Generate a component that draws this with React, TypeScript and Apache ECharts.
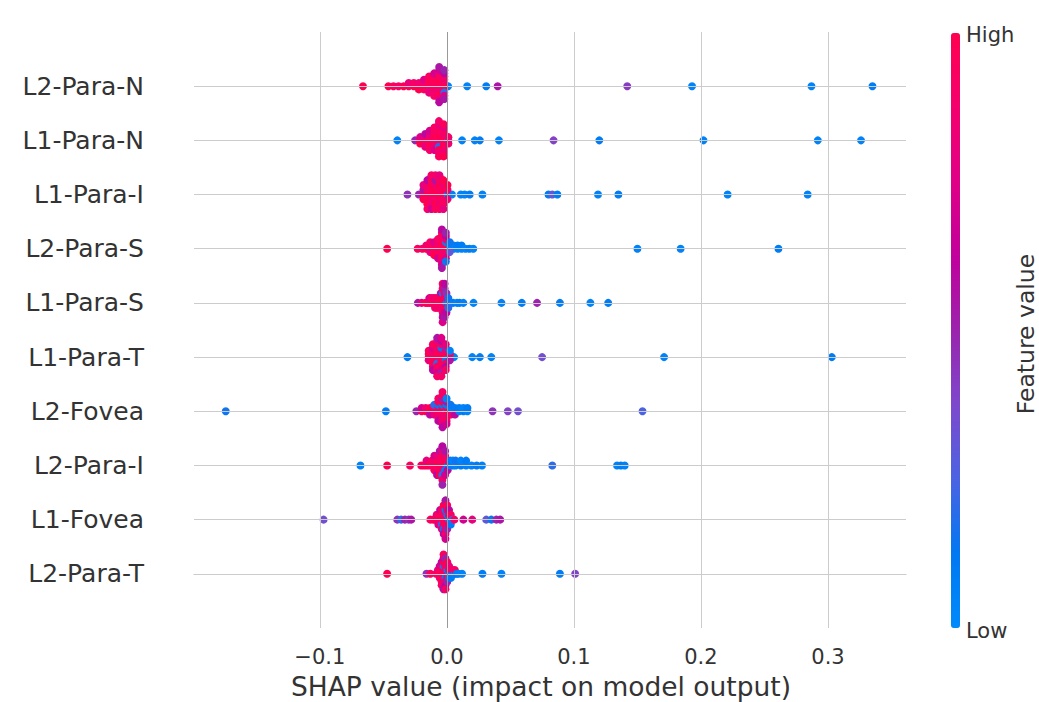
import { useEffect, useRef } from 'react';
import * as echarts from 'echarts';

const FEATURES = ['L2-Para-N', 'L1-Para-N', 'L1-Para-I', 'L2-Para-S', 'L1-Para-S', 'L1-Para-T', 'L2-Fovea', 'L2-Para-I', 'L1-Fovea', 'L2-Para-T'];
const X_TICKS = [-0.1, 0, 0.1, 0.2, 0.3];
const X_TITLE = 'SHAP value (impact on model output)';
const X_MIN = -0.199;
const X_MAX = 0.3614;
const COLOR_STOPS = ['#008bfb', '#0078f3', '#4b63e3', '#7d49cd', '#9b23ad', '#c2009c', '#e00087', '#f5006d', '#ff0051'];

// [SHAP value, normalised feature value (0 = low, 1 = high)]
const L2_PARA_N: number[][] = [
  [-0.066, 1], [-0.046, 1], [-0.042, .95], [0.001, .05], [0.016, .05], [0.031, .1], [0.040, .55], [0.142, .42], [0.193, .05], [0.287, .05], [0.335, .1],
  [-0.038, .9], [-0.034, 1], [-0.030, .95], [-0.030, .8], [-0.026, 1], [-0.026, .9],
  [-0.022, .95], [-0.022, .85], [-0.022, 1], [-0.018, 1], [-0.018, .9], [-0.018, .95], [-0.018, .75],
  [-0.014, 1], [-0.014, .95], [-0.014, .9], [-0.014, 1], [-0.014, .8], [-0.014, .95],
  [-0.010, 1], [-0.010, .9], [-0.010, .95], [-0.010, 1], [-0.010, .85], [-0.010, .95], [-0.010, .9], [-0.010, .7],
  [-0.006, 1], [-0.006, .95], [-0.006, .9], [-0.006, 1], [-0.006, .85], [-0.006, .95], [-0.006, 1], [-0.006, .9], [-0.006, .8], [-0.006, .7], [-0.006, .6], [-0.006, .55],
  [-0.002, .9], [-0.002, 1], [-0.002, .95], [-0.002, .85], [-0.002, .2], [-0.002, .9], [-0.002, .75], [-0.002, .6], [-0.002, .55], [-0.002, .5],
];
const L1_PARA_N: number[][] = [
  [-0.039, .05], [-0.025, .5], [0.012, .05], [0.022, .05], [0.026, .1], [0.041, .05], [0.084, .4], [0.120, .1], [0.202, .05], [0.292, .05], [0.326, .05],
  [-0.021, .9], [-0.021, .75], [-0.021, 1],
  [-0.017, 1], [-0.017, .85], [-0.017, .95], [-0.017, .6], [-0.017, .8],
  [-0.0135, 1], [-0.0135, .9], [-0.0135, .95], [-0.0135, .8], [-0.0135, 1], [-0.0135, .7], [-0.0135, .9],
  [-0.0098, 1], [-0.0098, .95], [-0.0098, .9], [-0.0098, 1], [-0.0098, .85], [-0.0098, .9], [-0.0098, .75], [-0.0098, .95],
  [-0.0062, 1], [-0.0062, .95], [-0.0062, .9], [-0.0062, 1], [-0.0062, .2], [-0.0062, .95], [-0.0062, 1], [-0.0062, .9], [-0.0062, .85], [-0.0062, .8], [-0.0062, .95], [-0.0062, .9],
  [-0.0025, .95], [-0.0025, 1], [-0.0025, .9], [-0.0025, .85], [-0.0025, 1], [-0.0025, .95], [-0.0025, .9], [-0.0025, .8], [-0.0025, .85], [-0.0025, .95], [-0.0025, 1],
  [0.0012, .1], [0.0012, .9], [0.0012, .85],
];
const L1_PARA_I: number[][] = [
  [-0.031, .45], [-0.022, .5], [0.004, .05], [0.011, .05], [0.014, .05], [0.018, .1], [0.028, .05], [0.080, .1], [0.083, .3], [0.087, .1], [0.119, .05], [0.135, .1], [0.221, .05], [0.284, .05],
  [-0.0184, .9], [-0.0184, .55], [-0.0184, 1], [-0.0184, .8],
  [-0.0153, 1], [-0.0153, .9], [-0.0153, .95], [-0.0153, .85], [-0.0153, 1], [-0.0153, .6], [-0.0153, .9],
  [-0.0121, 1], [-0.0121, .95], [-0.0121, .9], [-0.0121, 1], [-0.0121, .85], [-0.0121, .95], [-0.0121, .7], [-0.0121, .9],
  [-0.009, .95], [-0.009, 1], [-0.009, .9], [-0.009, .85], [-0.009, 1], [-0.009, .55], [-0.009, .95], [-0.009, .9],
  [-0.0058, 1], [-0.0058, .9], [-0.0058, .95], [-0.0058, 1], [-0.0058, .85], [-0.0058, .9], [-0.0058, .95], [-0.0058, .8],
  [-0.0027, .95], [-0.0027, 1], [-0.0027, .9], [-0.0027, .85], [-0.0027, .95], [-0.0027, 1], [-0.0027, .8],
  [0.0005, .1], [0.0005, .9], [0.0005, .85], [0.0005, 1],
];
const L2_PARA_S: number[][] = [
  [-0.047, 1], [-0.023, .95], [0.150, .05], [0.184, .05], [0.261, .1],
  [0.0054, .05], [0.0054, .1], [0.0085, .05], [0.0085, .1], [0.0116, .05], [0.0116, .1], [0.0147, .05], [0.0177, .1], [0.0208, .05],
  [-0.0193, .9], [-0.0162, 1], [-0.0162, .85],
  [-0.0131, .95], [-0.0131, 1], [-0.0131, .8], [-0.0131, .9],
  [-0.010, 1], [-0.010, .9], [-0.010, .95], [-0.010, .75], [-0.010, 1],
  [-0.007, 1], [-0.007, .95], [-0.007, .9], [-0.007, .85], [-0.007, 1], [-0.007, .9], [-0.007, .7],
  [-0.0039, 1], [-0.0039, .95], [-0.0039, .9], [-0.0039, 1], [-0.0039, .85], [-0.0039, .95], [-0.0039, 1], [-0.0039, .9], [-0.0039, .8], [-0.0039, .95], [-0.0039, .7], [-0.0039, .6], [-0.0039, .55],
  [-0.0008, .9], [-0.0008, 1], [-0.0008, .95], [-0.0008, .2], [-0.0008, .85], [-0.0008, .9], [-0.0008, .75], [-0.0008, .6], [-0.0008, .15], [-0.0008, .5],
  [0.0023, .1], [0.0023, .05], [0.0023, .3], [0.0023, .15],
];
const L1_PARA_S: number[][] = [
  [-0.0228, .55], [0.003, .05], [0.005, .1], [0.008, .05], [0.010, .1], [0.013, .05], [0.021, .05], [0.043, .05], [0.059, .1], [0.071, .5], [0.089, .1], [0.113, .05], [0.127, .1],
  [-0.0198, .8], [-0.0168, .95], [-0.0153, 1], [-0.0138, .9], [-0.0138, .7], [-0.0123, 1], [-0.0123, .85], [-0.0108, .95], [-0.0108, .9],
  [-0.0093, 1], [-0.0093, .8], [-0.0093, .9], [-0.0078, .95], [-0.0078, 1], [-0.0078, .85],
  [-0.0063, 1], [-0.0063, .9], [-0.0063, .95],
  [-0.0048, .9], [-0.0048, 1], [-0.0048, .85], [-0.0048, .55],
  [-0.0033, 1], [-0.0033, .95], [-0.0033, .9], [-0.0033, .2], [-0.0033, .85], [-0.0033, 1], [-0.0033, .6], [-0.0033, .95], [-0.0033, .75],
  [-0.0018, .95], [-0.0018, 1], [-0.0018, .9], [-0.0018, .85], [-0.0018, .7], [-0.0018, .5], [-0.0018, .55], [-0.0018, .6],
  [-0.0003, .1], [-0.0003, .9], [-0.0003, 1], [-0.0003, .45], [-0.0003, .6],
  [0.0012, .05], [0.0012, .15], [0.0012, .2],
];
const L1_PARA_T: number[][] = [
  [-0.031, .1], [0.0057, .05], [0.020, .05], [0.026, .1], [0.035, .05], [0.075, .35], [0.171, .05], [0.303, .1],
  [-0.0143, .9], [-0.0143, 1], [-0.0143, .8], [-0.0143, .95],
  [-0.011, 1], [-0.011, .9], [-0.011, .95], [-0.011, .85], [-0.011, 1], [-0.011, .7], [-0.011, .9], [-0.011, .95], [-0.011, .6],
  [-0.0076, 1], [-0.0076, .95], [-0.0076, .9], [-0.0076, 1], [-0.0076, .2], [-0.0076, .85], [-0.0076, .95], [-0.0076, 1], [-0.0076, .9], [-0.0076, .8], [-0.0076, .7], [-0.0076, .55], [-0.0076, .9],
  [-0.0043, .95], [-0.0043, 1], [-0.0043, .9], [-0.0043, .85], [-0.0043, 1], [-0.0043, .15], [-0.0043, .95], [-0.0043, .9], [-0.0043, .8], [-0.0043, .6], [-0.0043, .5], [-0.0043, .75], [-0.0043, .9],
  [-0.0009, .9], [-0.0009, 1], [-0.0009, .1], [-0.0009, .85], [-0.0009, .95], [-0.0009, .5], [-0.0009, .6], [-0.0009, .8], [-0.0009, .9],
  [0.0024, .1], [0.0024, .9], [0.0024, .55], [0.0024, .05],
];
const L2_FOVEA: number[][] = [
  [-0.174, .15], [-0.048, .1], [-0.024, .5], [0.036, .45], [0.048, .4], [0.056, .35], [0.154, .25],
  [-0.0198, .95], [-0.0198, .7], [-0.0166, 1], [-0.0166, .85], [-0.0133, .9], [-0.0133, 1], [-0.0133, .6],
  [-0.010, 1], [-0.010, .95], [-0.010, .8], [-0.010, .2],
  [-0.0067, 1], [-0.0067, .9], [-0.0067, .95], [-0.0067, .1], [-0.0067, .85], [-0.0067, 1], [-0.0067, .6], [-0.0067, .9],
  [-0.0034, .95], [-0.0034, 1], [-0.0034, .9], [-0.0034, .15], [-0.0034, .85], [-0.0034, 1], [-0.0034, .9], [-0.0034, .5], [-0.0034, .8], [-0.0034, .95], [-0.0034, .6], [-0.0034, .9],
  [-0.0002, .2], [-0.0002, .9], [-0.0002, 1], [-0.0002, .1], [-0.0002, .85], [-0.0002, .55], [-0.0002, .95], [-0.0002, .05], [-0.0002, .7],
  [0.0031, .1], [0.0031, .05], [0.0031, .9], [0.0031, .15],
  [0.0064, .05], [0.0064, .1], [0.0064, .6], [0.0097, .05], [0.0097, .1], [0.013, .1], [0.013, .05], [0.0162, .05], [0.0162, .1],
];
const L2_PARA_I: number[][] = [
  [-0.068, .05], [-0.047, 1], [-0.029, .95], [0.083, .2], [0.134, .05], [0.137, .1], [0.140, .05],
  [-0.0202, .9], [-0.0181, 1], [-0.016, .95], [-0.016, .8], [-0.0139, 1], [-0.0118, .9], [-0.0118, .95],
  [-0.0098, 1], [-0.0098, .85], [-0.0098, .9], [-0.0098, .7],
  [-0.0077, .95], [-0.0077, 1], [-0.0077, .9], [-0.0077, .8], [-0.0077, .6],
  [-0.0056, 1], [-0.0056, .9], [-0.0056, .95], [-0.0056, .85], [-0.0056, 1], [-0.0056, .55],
  [-0.0035, 1], [-0.0035, .95], [-0.0035, .9], [-0.0035, 1], [-0.0035, .2], [-0.0035, .85], [-0.0035, .9], [-0.0035, .6], [-0.0035, .5],
  [-0.0014, .9], [-0.0014, 1], [-0.0014, .15], [-0.0014, .85], [-0.0014, .7], [-0.0014, .55],
  [0.0006, .1], [0.0006, .9], [0.0006, .6], [0.0027, .05], [0.0027, .1], [0.0048, .1], [0.0048, .05], [0.0069, .05], [0.0069, .15],
  [0.011, .1], [0.011, .05], [0.0152, .05], [0.0152, .1], [0.0194, .05], [0.0235, .1], [0.0277, .05],
];
const L1_FOVEA: number[][] = [
  [-0.097, .35], [-0.039, .45], [-0.036, .2], [-0.033, .5], [-0.030, .45], [-0.028, .55], [-0.013, .95], [0.013, .7], [0.020, .8], [0.031, .3], [0.035, .15], [0.039, .5], [0.042, .55],
  [-0.0108, .9], [-0.0094, 1], [-0.008, .95], [-0.008, .8], [-0.0067, 1], [-0.0067, .9], [-0.0067, .7],
  [-0.0053, .95], [-0.0053, 1], [-0.0053, .85], [-0.0053, .6],
  [-0.0039, 1], [-0.0039, .9], [-0.0039, .2], [-0.0039, .95], [-0.0039, .8],
  [-0.0025, .95], [-0.0025, 1], [-0.0025, .9], [-0.0025, .85], [-0.0025, .15], [-0.0025, 1], [-0.0025, .6],
  [-0.0011, 1], [-0.0011, .9], [-0.0011, .95], [-0.0011, .1], [-0.0011, .85], [-0.0011, 1], [-0.0011, .9], [-0.0011, .55], [-0.0011, .7],
  [0.0003, .9], [0.0003, .15], [0.0003, 1], [0.0003, .85], [0.0003, .5], [0.0003, .95],
  [0.0017, .1], [0.0017, .9], [0.0017, .8], [0.0017, .6],
  [0.0031, .05], [0.0031, .95], [0.0031, .1], [0.0045, .2], [0.0059, .9],
];
const L2_PARA_T: number[][] = [
  [-0.047, 1], [-0.016, .45], [-0.013, .95], [0.012, .05], [0.028, .1], [0.043, .05], [0.089, .1], [0.101, .4],
  [-0.0085, .9], [-0.007, 1], [-0.007, .8],
  [-0.0056, .95], [-0.0056, 1], [-0.0056, .85], [-0.0056, .7],
  [-0.0041, 1], [-0.0041, .9], [-0.0041, .95], [-0.0041, .85], [-0.0041, 1], [-0.0041, .6], [-0.0041, .9],
  [-0.0026, .95], [-0.0026, 1], [-0.0026, .9], [-0.0026, .2], [-0.0026, .85], [-0.0026, 1], [-0.0026, .9], [-0.0026, .7], [-0.0026, .55], [-0.0026, .95],
  [-0.0011, 1], [-0.0011, .9], [-0.0011, .1], [-0.0011, .95], [-0.0011, .85], [-0.0011, 1], [-0.0011, .6], [-0.0011, .5], [-0.0011, .9],
  [0.0004, .9], [0.0004, .05], [0.0004, 1], [0.0004, .85], [0.0004, .5], [0.0004, .95],
  [0.0018, .1], [0.0018, .9], [0.0018, .15], [0.0018, .8],
  [0.0033, .05], [0.0033, .9], [0.0033, .1], [0.0048, .1], [0.0048, .85], [0.0063, .05], [0.0063, .9], [0.0078, .1], [0.0093, .05],
];

const ROWS = [L2_PARA_N, L1_PARA_N, L1_PARA_I, L2_PARA_S, L1_PARA_S, L1_PARA_T, L2_FOVEA, L2_PARA_I, L1_FOVEA, L2_PARA_T];

// Beeswarm layout (as in SHAP): bin the values, then stack points of each bin alternately above/below the row
function beeswarm(points: number[][], rowY: number): number[][] {
  const n = points.length;
  const vals = points.map((p) => p[0]);
  const mn = Math.min(...vals);
  const mx = Math.max(...vals);
  const quant = vals.map((v) => Math.round((100 * (v - mn)) / (mx - mn + 1e-8)));
  const order = vals.map((_, i) => i).sort((a, b) => quant[a] - quant[b] || a - b);
  const ys = new Array(n).fill(0);
  let layer = 0;
  let last = -1;
  for (const i of order) {
    if (quant[i] !== last) layer = 0;
    ys[i] = Math.ceil(layer / 2) * ((layer % 2) * 2 - 1);
    layer++;
    last = quant[i];
  }
  const m = Math.max(1, ...ys);
  const scale = 0.355 / m;
  return points.map((p, i) => [p[0], rowY + ys[i] * scale, p[1]]);
}

const fmt = (v: number) => {
  const s = Math.abs(v).toFixed(1);
  return v < -1e-9 ? '\u2212' + s : s;
};

export default function App() {
  const ref = useRef<HTMLDivElement>(null);
  useEffect(() => {
    if (!ref.current) return;
    const chart = echarts.init(ref.current, undefined, { renderer: 'svg' });
    const n = FEATURES.length;
    const points: number[][] = [];
    for (let i = n - 1; i >= 0; i--) {
      points.push(...beeswarm(ROWS[i], n - 1 - i));
    }
    const font = 'DejaVu Sans';
    const lineData: any[] = [];
    for (let i = 0; i < n; i++) lineData.push({ yAxis: i });
    X_TICKS.forEach((t) => {
      if (t === 0) lineData.push({ xAxis: t, lineStyle: { color: '#999999', width: 1, type: 'solid' } });
      else lineData.push({ xAxis: t });
    });
    chart.setOption({
      animation: false,
      backgroundColor: '#ffffff',
      textStyle: { fontFamily: font },
      grid: { left: 194, right: 133, top: 32, bottom: 74, containLabel: false },
      xAxis: {
        type: 'value',
        min: X_MIN,
        max: X_MAX,
        axisLine: { show: true, lineStyle: { color: '#bbbbbb', width: 1 } },
        axisTick: { show: true, customValues: X_TICKS, length: 8, lineStyle: { color: '#333333', width: 1 } },
        axisLabel: { customValues: X_TICKS, formatter: (v: number) => fmt(v), fontSize: 21, color: '#333333', margin: 18, fontFamily: font },
        splitLine: { show: false },
      },
      yAxis: {
        type: 'value',
        min: -1,
        max: 10,
        interval: 1,
        axisLine: { show: false },
        axisTick: { show: false },
        splitLine: { show: false },
        axisLabel: {
          margin: 50,
          fontSize: 25,
          color: '#333333',
          fontFamily: font,
          formatter: (v: number) => (v >= 0 && v <= n - 1 ? FEATURES[n - 1 - v] : ''),
        },
      },
      visualMap: {
        type: 'continuous',
        seriesIndex: 1,
        dimension: 2,
        min: 0,
        max: 1,
        orient: 'vertical',
        left: 951,
        top: 33,
        itemWidth: 9,
        itemHeight: 595,
        padding: 0,
        calculable: false,
        realtime: false,
        hoverLink: false,
        showLabel: false,
        inRange: { color: COLOR_STOPS },
      },
      series: [
        {
          type: 'scatter',
          data: [],
          silent: true,
          z: 1,
          markLine: {
            silent: true,
            symbol: 'none',
            label: { show: false },
            emphasis: { disabled: true },
            lineStyle: { color: '#cccccc', width: 1, type: 'solid' },
            data: lineData,
          },
        },
        {
          type: 'scatter',
          data: points,
          symbolSize: 8,
          z: 3,
          itemStyle: { opacity: 1 },
          emphasis: { disabled: true },
        },
      ],
      graphic: [
        { type: 'text', x: 541, y: 686, style: { text: X_TITLE, fontSize: 26.5, fontFamily: font, fill: '#333333', align: 'center', verticalAlign: 'middle' } },
        { type: 'text', x: 966, y: 35, style: { text: 'High', fontSize: 21, fontFamily: font, fill: '#333333', align: 'left', verticalAlign: 'middle' } },
        { type: 'text', x: 966, y: 631, style: { text: 'Low', fontSize: 21, fontFamily: font, fill: '#333333', align: 'left', verticalAlign: 'middle' } },
        { type: 'text', x: 1026, y: 334, rotation: Math.PI / 2, style: { text: 'Feature value', fontSize: 23.5, fontFamily: font, fill: '#333333', align: 'center', verticalAlign: 'middle' } },
      ],
    });
    return () => chart.dispose();
  }, []);
  return <div ref={ref} style={{ position: 'fixed', left: 0, top: 0, width: 1039, height: 702, background: '#fff' }} />;
}
